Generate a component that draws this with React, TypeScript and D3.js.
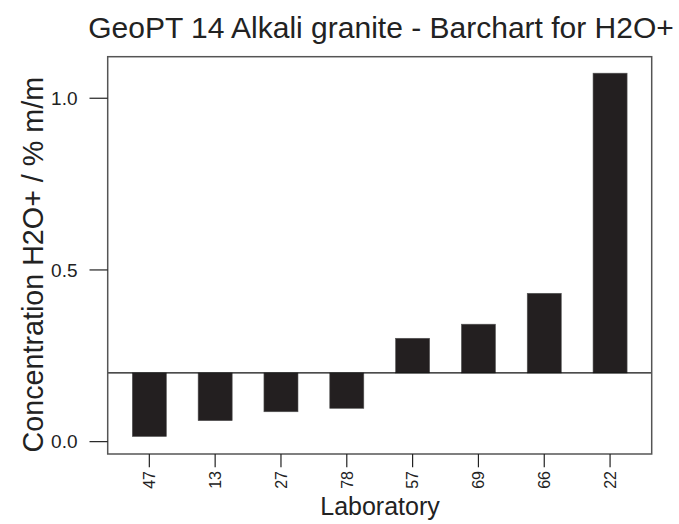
import React from 'react';
import * as d3 from 'd3';

const labs = ['47', '13', '27', '78', '57', '69', '66', '22'];
const values = [0.015, 0.061, 0.087, 0.097, 0.301, 0.342, 0.432, 1.073];
const assigned = 0.2;
const yTicks = [0, 0.5, 1.0];

const W = 679;
const H = 524;
const left = 107.7, right = 651.7, top = 56.7, bottom = 454;
const font = '"Liberation Sans", Arial, Helvetica, sans-serif';

const App: React.FC = () => {
  const x = d3.scaleBand<string>()
    .domain(labs)
    .range([left, right])
    .paddingInner(0.483)
    .paddingOuter(0.374);

  const y = d3.scaleLinear()
    .domain([-0.036, 1.121])
    .range([bottom, top]);

  const base = y(assigned);

  return (
    <svg width={W} height={H} style={{ position: 'absolute', left: 0, top: 0, background: '#fff' }} fontFamily={font}>
      <text x={381} y={38} fontSize={30} textAnchor="middle" fill="#222">
        GeoPT 14 Alkali granite - Barchart for H2O+
      </text>

      {/* bars from assigned value */}
      {values.map((v, i) => (
        <rect
          key={labs[i]}
          x={x(labs[i])!}
          y={Math.min(y(v), base)}
          width={x.bandwidth()}
          height={Math.abs(y(v) - base)}
          fill="#231f20"
          stroke="#555"
          strokeWidth={0.6}
        />
      ))}

      <line x1={left} x2={right} y1={base} y2={base} stroke="#111" strokeWidth={1.2} />

      <rect x={left} y={top} width={right - left} height={bottom - top} fill="none" stroke="#555" strokeWidth={1.5} />

      {/* y axis */}
      {yTicks.map(t => (
        <g key={t}>
          <line x1={89.5} x2={left} y1={y(t)} y2={y(t)} stroke="#222" strokeWidth={1.2} />
          <text x={77.5} y={y(t)} dy="0.35em" fontSize={19} textAnchor="end" fill="#222">
            {t.toFixed(1)}
          </text>
        </g>
      ))}

      {/* x axis */}
      {labs.map(l => {
        const cx = x(l)! + x.bandwidth() / 2;
        return (
          <g key={l}>
            <line x1={cx} x2={cx} y1={bottom} y2={467.3} stroke="#222" strokeWidth={1.2} />
            <text
              transform={`translate(${cx},${471}) rotate(-90)`}
              dy="0.36em"
              fontSize={16}
              textAnchor="end"
              fill="#222"
            >
              {l}
            </text>
          </g>
        );
      })}

      <text x={380} y={515} fontSize={25} textAnchor="middle" fill="#222">Laboratory</text>

      <text
        transform={`translate(43,${264.7}) rotate(-90)`}
        fontSize={28.7}
        textAnchor="middle"
        fill="#222"
      >
        Concentration H2O+ / % m/m
      </text>
    </svg>
  );
};

export default App;
